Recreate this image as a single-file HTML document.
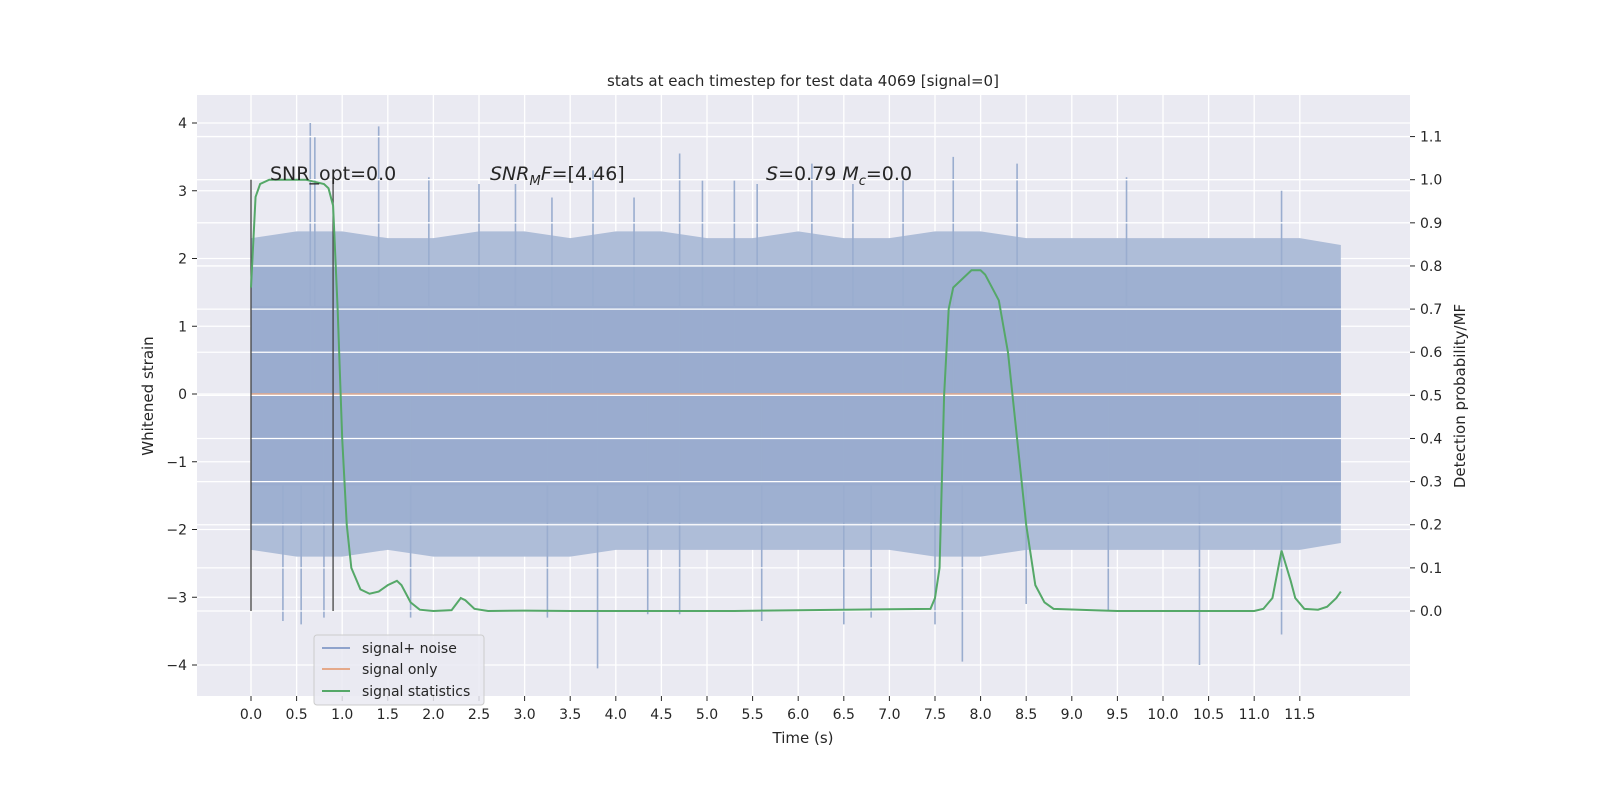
<!DOCTYPE html>
<html><head><meta charset="utf-8"><style>
html,body{margin:0;padding:0;background:#fff;overflow:hidden;width:1600px;height:800px}
svg{display:block;position:absolute;left:0;top:0}
svg text{font-family:"DejaVu Sans","Liberation Sans",sans-serif;fill:#262626}
</style></head><body>
<svg id="c" width="1600" height="800" xmlns="http://www.w3.org/2000/svg">
<rect width="1600" height="800" fill="#fff"/>
<rect x="197" y="95" width="1213" height="601" fill="#eaeaf2"/>
<g id="gl"></g><g id="noise"></g><g id="gr"></g><g id="over"></g><g id="ax"></g>
</svg>
<script>
const xTicks=[0,0.5,1,1.5,2,2.5,3,3.5,4,4.5,5,5.5,6,6.5,7,7.5,8,8.5,9,9.5,10,10.5,11,11.5];
const yLeftTicks=[-4,-3,-2,-1,0,1,2,3,4];
const yRightTicks=[0,0.1,0.2,0.3,0.4,0.5,0.6,0.7,0.8,0.9,1.0,1.1];
const envT=[0,0.5,1,1.5,2,2.5,3,3.5,4,4.5,5,5.5,6,6.5,7,7.5,8,8.5,9,9.5,10,10.5,11,11.5,11.95];
const envUp=[2.3,2.4,2.4,2.3,2.3,2.4,2.4,2.3,2.4,2.4,2.3,2.3,2.4,2.3,2.3,2.4,2.4,2.3,2.3,2.3,2.3,2.3,2.3,2.3,2.2];
const envLo=[-2.3,-2.4,-2.4,-2.3,-2.4,-2.4,-2.4,-2.4,-2.3,-2.3,-2.3,-2.3,-2.3,-2.3,-2.3,-2.4,-2.4,-2.3,-2.3,-2.3,-2.3,-2.3,-2.3,-2.3,-2.2];
const spikeT=[0.65,0.7,1.4,1.95,2.5,2.9,3.3,3.75,4.2,4.7,4.95,5.3,5.55,6.15,6.6,7.15,7.7,8.4,9.6,11.3,0.35,0.55,0.8,1.75,3.25,3.8,4.35,4.7,5.6,6.5,6.8,7.5,7.8,8.5,9.4,10.4,11.3];
const spikeV=[4.0,3.8,3.95,3.2,3.1,3.1,2.9,3.3,2.9,3.55,3.15,3.15,3.1,3.4,3.1,3.2,3.5,3.4,3.2,3.0,-3.35,-3.4,-3.3,-3.3,-3.3,-4.05,-3.25,-3.25,-3.35,-3.4,-3.3,-3.4,-3.95,-3.1,-3.2,-4.0,-3.55];
const statT=[0,0.05,0.1,0.2,0.3,0.6,0.8,0.85,0.9,0.95,1.0,1.05,1.1,1.2,1.3,1.4,1.5,1.6,1.65,1.75,1.85,2.0,2.2,2.3,2.35,2.45,2.6,3.0,3.5,5.3,5.6,7.45,7.5,7.55,7.6,7.65,7.7,7.8,7.9,8.0,8.05,8.1,8.2,8.3,8.4,8.5,8.6,8.7,8.8,9.2,9.5,11.0,11.1,11.2,11.3,11.4,11.45,11.55,11.7,11.8,11.9,11.95];
const statV=[0.75,0.96,0.99,1.0,1.0,1.0,0.99,0.98,0.94,0.7,0.4,0.2,0.1,0.05,0.04,0.045,0.06,0.07,0.06,0.02,0.003,0,0.002,0.03,0.025,0.005,0,0.001,0,0,0.001,0.005,0.03,0.1,0.5,0.7,0.75,0.77,0.79,0.79,0.78,0.76,0.72,0.6,0.4,0.2,0.06,0.02,0.005,0.002,0,0,0.005,0.03,0.14,0.07,0.03,0.005,0.003,0.01,0.03,0.045];
const X=t=>251+t*91.2, YL=v=>394-v*67.75, YR=v=>611-v*431.3;
const NS="http://www.w3.org/2000/svg";
function mk(p,tag,a,txt){const e=document.createElementNS(NS,tag);for(const k in a)e.setAttribute(k,a[k]);if(txt!=null)e.textContent=txt;document.getElementById(p).appendChild(e);return e;}
for(const v of yLeftTicks){const e=mk('gl','line',{x1:197,x2:1410,y1:YL(v),y2:YL(v),stroke:'#fff','stroke-width':1.3});

}
for(const t of xTicks){const e=mk('gl','line',{x1:X(t),x2:X(t),y1:95,y2:696,stroke:'#fff','stroke-width':1.3});

}
let pts=envT.map((t,i)=>X(t)+','+YL(envUp[i])).concat(envT.slice().reverse().map((t,i)=>X(t)+','+YL(envLo[envT.length-1-i])));
let env=mk('noise','polygon',{points:pts.join(' '),fill:'#aebdd8'});


let core=mk('noise','rect',{x:X(0),y:YL(1.9),width:X(11.95)-X(0),height:YL(-1.9)-YL(1.9),fill:'#9eb0d1'});


let core2=mk('noise','rect',{x:X(0),y:YL(1.3),width:X(11.95)-X(0),height:YL(-1.35)-YL(1.3),fill:'#9aaccf'});


spikeT.forEach((t,i)=>{const e=mk('noise','line',{x1:X(t),x2:X(t),y1:YL(0),y2:YL(spikeV[i]),stroke:'#9aadcf','stroke-width':1.6});

});
let sig=mk('noise','line',{x1:X(0),x2:X(11.95),y1:YL(0),y2:YL(0),stroke:'#e5a98a','stroke-width':1.5});


for(const v of yRightTicks){const e=mk('gr','line',{x1:197,x2:1410,y1:YR(v),y2:YR(v),stroke:'#fff','stroke-width':1.3});

}
for(const t of [0,0.9]){const e=mk('over','line',{x1:X(t),x2:X(t),y1:YR(1),y2:YR(0),stroke:'#444','stroke-width':1.3});

}
let stat=mk('over','polyline',{points:statT.map((t,i)=>X(t)+','+YR(statV[i])).join(' '),fill:'none',stroke:'#55a868','stroke-width':2});


const ann=[[270,'SNR_opt=0.0'],[490,'<tspan font-style="italic">SNR</tspan><tspan font-style="italic" font-size="13" dy="5">M</tspan><tspan font-style="italic" dy="-5">F</tspan>=[4.46]'],[766,'<tspan font-style="italic">S</tspan>=0.79   <tspan font-style="italic">M</tspan><tspan font-style="italic" font-size="13" dy="5">c</tspan><tspan dy="-5">=0.0</tspan>']];
for(const [x,h] of ann){const e=mk('over','text',{x:x,y:180,'font-size':19,'xml:space':'preserve'});e.innerHTML=h;

}
xTicks.forEach(t=>{mk('ax','line',{x1:X(t),x2:X(t),y1:696,y2:701,stroke:'#262626'});
const e=mk('ax','text',{x:X(t),y:719,'font-size':14,'text-anchor':'middle'},t.toFixed(1));

});
yLeftTicks.forEach(v=>{mk('ax','line',{x1:192,x2:197,y1:YL(v),y2:YL(v),stroke:'#262626'});
const e=mk('ax','text',{x:187,y:YL(v)+5,'font-size':14,'text-anchor':'end'},v<0?'\u2212'+(-v):String(v));

});
yRightTicks.forEach(v=>{mk('ax','line',{x1:1410,x2:1415,y1:YR(v),y2:YR(v),stroke:'#262626'});
const e=mk('ax','text',{x:1420,y:YR(v)+5,'font-size':14},v.toFixed(1));

});
</script>
<svg width="1600" height="800">
<text x="803" y="86" font-size="15" text-anchor="middle">stats at each timestep for test data 4069 [signal=0]</text>
<text x="803" y="743" font-size="15" text-anchor="middle">Time (s)</text>
<text transform="translate(153,396) rotate(-90)" font-size="15" text-anchor="middle">Whitened strain</text>
<text transform="translate(1465,396) rotate(-90)" font-size="15" text-anchor="middle">Detection probability/MF</text>
<g>
<rect x="314" y="635" width="170" height="70" rx="3" fill="#eaeaf2" fill-opacity="0.85" stroke="#ccc"/>
<line x1="322" x2="350" y1="648" y2="648" stroke="#8fa3cc" stroke-width="2"/>
<text x="362" y="653" font-size="14">signal+ noise</text>
<line x1="322" x2="350" y1="669" y2="669" stroke="#e5a98a" stroke-width="2"/>
<text x="362" y="674" font-size="14">signal only</text>
<line x1="322" x2="350" y1="691" y2="691" stroke="#55a868" stroke-width="2"/>
<text x="362" y="696" font-size="14">signal statistics</text>
</g>
</svg>
</body></html>
